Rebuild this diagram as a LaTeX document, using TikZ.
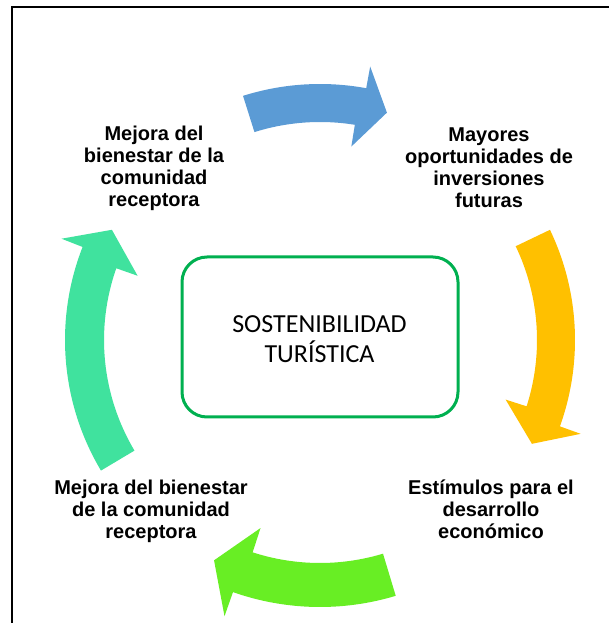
\documentclass[tikz,border=0pt]{standalone}
\usepackage{fontspec}
\setmainfont{Liberation Sans}
\newfontfamily\calibrifont{Carlito}
\usetikzlibrary{calc}
\definecolor{blueA}{RGB}{91,155,213}
\definecolor{yellowA}{RGB}{255,192,0}
\definecolor{greenA}{RGB}{104,238,36}
\definecolor{tealA}{RGB}{64,226,158}
\definecolor{boxgreen}{RGB}{0,176,80}
% #1 colour, #2 cx, #3 cy, #4 r inner, #5 r outer, #6 tail angle,
% #7 head base angle (outer side), #8 head base angle (inner side), #9 tip angle
\newcommand\cycarrow[9]{%
  \pgfmathsetmacro\cyrmid{(#4+#5)/2}%
  \pgfmathsetmacro\cybext{0.58*(#5-#4)}%
  \pgfmathsetmacro\cyrbo{#5+\cybext}%
  \pgfmathsetmacro\cyrbi{#4-\cybext}%
  \fill[#1] ($(#2,#3)+(#6:#5)$) arc[start angle=#6, end angle=#7, radius=#5]
    -- ($(#2,#3)+(#7:\cyrbo)$) -- ($(#2,#3)+(#9:\cyrmid)$)
    -- ($(#2,#3)+(#8:\cyrbi)$) -- ($(#2,#3)+(#8:#4)$)
    arc[start angle=#8, end angle=#6, radius=#4] -- cycle;
}
% base anchor of a multi-line node = baseline of its last line
\tikzset{lbl/.style={font=\bfseries\fontsize{20}{22}\selectfont, align=center, inner sep=0pt, anchor=base}}
\begin{document}
\begin{tikzpicture}[x=1pt,y=1pt]
\useasboundingbox (0,0) rectangle (609,623);
\fill[white] (0,0) rectangle (609,623);
% frame (only top and left edges visible)
\draw[line width=2pt] (11.5,0) -- (11.5,615.5) -- (609,615.5);
% curved cycle arrows
\cycarrow{blueA}{320}{283}{218}{256}{107.5}{79.6}{80.8}{73.6}
\cycarrow{yellowA}{320}{283}{217}{255}{25.6}{-19.8}{-17.8}{-26.1}
\cycarrow{greenA}{320}{278}{218}{262}{-73.2}{-109.4}{-108}{-116.2}
\cycarrow{tealA}{320}{283}{216}{255}{210.8}{158.6}{160.6}{152.1}
% central box
\node[draw=boxgreen, line width=3pt, rounded corners=25pt, minimum width=276pt, minimum height=160pt, inner sep=0pt] (core) at (320,286) {};
\node[font=\calibrifont\fontsize{26}{30}\selectfont, align=center, inner sep=0pt, anchor=base] (corelabel) at (319.5,260) {SOSTENIBILIDAD\\TURÍSTICA};
% labels
\node[lbl] (tl) at (154,416) {Mejora del\\bienestar de la\\comunidad\\receptora};
\node[lbl] (tr) at (489,415) {Mayores\\oportunidades de\\inversiones\\futuras};
\node[lbl] (bl) at (151,84) {Mejora del bienestar\\de la comunidad\\receptora};
\node[lbl] (br) at (491,84) {Estímulos para el\\desarrollo\\económico};
\end{tikzpicture}
\end{document}
